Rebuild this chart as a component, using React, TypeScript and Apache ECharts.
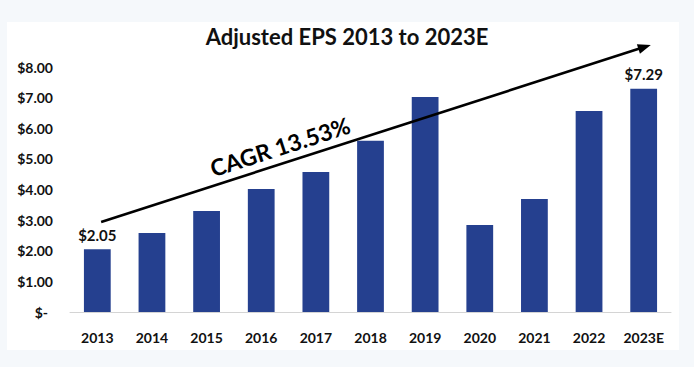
import React, { useEffect, useRef } from "react";
import * as echarts from "echarts";

const categories = ["2013", "2014", "2015", "2016", "2017", "2018", "2019", "2020", "2021", "2022", "2023E"];
const epsValues = [2.05, 2.58, 3.3, 4.02, 4.57, 5.59, 7.02, 2.84, 3.69, 6.56, 7.29];
const labelledIndexes = [0, 10];
const yTicks = [0, 1, 2, 3, 4, 5, 6, 7, 8];
const titleText = "Adjusted EPS 2013 to 2023E";
const cagrText = "CAGR 13.53%";
// trend arrow in data space: [category index, value]
const arrowStart = [0.07, 2.94];
const arrowEnd = [10.13, 8.72];

const FONT = "Lato, 'Noto Sans', sans-serif";

export default function App() {
  const ref = useRef<HTMLDivElement>(null);
  useEffect(() => {
    if (!ref.current) return;
    const chart = echarts.init(ref.current, undefined, { renderer: "svg" });
    chart.setOption({
      animation: false,
      backgroundColor: "transparent",
      textStyle: { fontFamily: FONT },
      title: {
        text: titleText,
        left: "center",
        top: 20,
        textStyle: { fontFamily: FONT, fontWeight: "bold", fontSize: 22, color: "#111" },
      },
      grid: { left: 70, right: 23, top: 67, bottom: 55, containLabel: false },
      xAxis: {
        type: "category",
        data: categories,
        axisLine: { show: true, lineStyle: { color: "#d4d4d4", width: 1 } },
        axisTick: { show: false },
        axisLabel: { color: "#111", fontWeight: "bold", fontSize: 14, margin: 18, fontFamily: FONT },
      },
      yAxis: {
        type: "value",
        min: yTicks[0],
        max: yTicks[yTicks.length - 1],
        interval: 1,
        splitLine: { show: false },
        axisLine: { show: false },
        axisTick: { show: false },
        axisLabel: {
          color: "#111",
          fontWeight: "bold",
          fontSize: 14,
          margin: 17,
          fontFamily: FONT,
          formatter: (v: number) => (v === 0 ? "{z|$-}" : "$" + v.toFixed(2)),
          rich: { z: { fontWeight: "bold", fontSize: 14, color: "#111", padding: [0, 5, 0, 0], fontFamily: FONT } },
        },
      },
      series: [
        {
          type: "bar",
          data: epsValues.map((v, i) => ({
            value: v,
            label: {
              show: labelledIndexes.includes(i),
              position: "top",
              distance: 7,
              formatter: "$" + v.toFixed(2),
              color: "#111",
              fontWeight: "bold",
              fontSize: 15,
              fontFamily: FONT,
            },
          })),
          barWidth: "49%",
          itemStyle: { color: "#25408f" },
        },
      ],
    });

    // category axis rounds indexes, so interpolate between integer category positions
    const c0 = chart.convertToPixel({ gridIndex: 0 }, [0, 0]) as number[];
    const c1 = chart.convertToPixel({ gridIndex: 0 }, [1, 0]) as number[];
    const step = c1[0] - c0[0];
    const toPx = (p: number[]) => {
      const py = (chart.convertToPixel({ gridIndex: 0 }, [0, p[1]]) as number[])[1];
      return [c0[0] + step * p[0], py];
    };
    const p0 = toPx(arrowStart);
    const p1 = toPx(arrowEnd);
    const dx = p1[0] - p0[0];
    const dy = p1[1] - p0[1];
    const len = Math.sqrt(dx * dx + dy * dy);
    const ux = dx / len;
    const uy = dy / len;
    const headLen = 13;
    const headHalf = 5;
    const baseX = p1[0] - ux * headLen;
    const baseY = p1[1] - uy * headLen;
    const nx = -uy;
    const ny = ux;
    const t = 0.335;
    const mx = p0[0] + dx * t;
    const my = p0[1] + dy * t;
    const upx = uy;
    const upy = -ux;
    const off = 17;
    chart.setOption({
      graphic: [
        {
          type: "line",
          shape: { x1: p0[0], y1: p0[1], x2: baseX + ux * 2, y2: baseY + uy * 2 },
          style: { stroke: "#000", lineWidth: 2.6 },
          z: 10,
        },
        {
          type: "polygon",
          shape: {
            points: [
              [p1[0], p1[1]],
              [baseX + nx * headHalf, baseY + ny * headHalf],
              [baseX - nx * headHalf, baseY - ny * headHalf],
            ],
          },
          style: { fill: "#000" },
          z: 10,
        },
        {
          type: "text",
          x: mx + upx * off,
          y: my + upy * off,
          rotation: Math.atan2(-dy, dx),
          style: {
            text: cagrText,
            align: "center",
            verticalAlign: "middle",
            textAlign: "center",
            textVerticalAlign: "middle",
            fill: "#000",
            font: "bold 23px " + FONT,
          },
          z: 10,
        },
      ],
    });
    return () => chart.dispose();
  }, []);

  return (
    <div style={{ position: "fixed", left: 0, top: 0, width: 694, height: 367, background: "#f5f8fb" }}>
      <div style={{ position: "absolute", left: 7, top: 22, width: 672, height: 328, background: "#ffffff" }} />
      <div ref={ref} style={{ position: "absolute", left: 0, top: 0, width: 694, height: 367 }} />
    </div>
  );
}
